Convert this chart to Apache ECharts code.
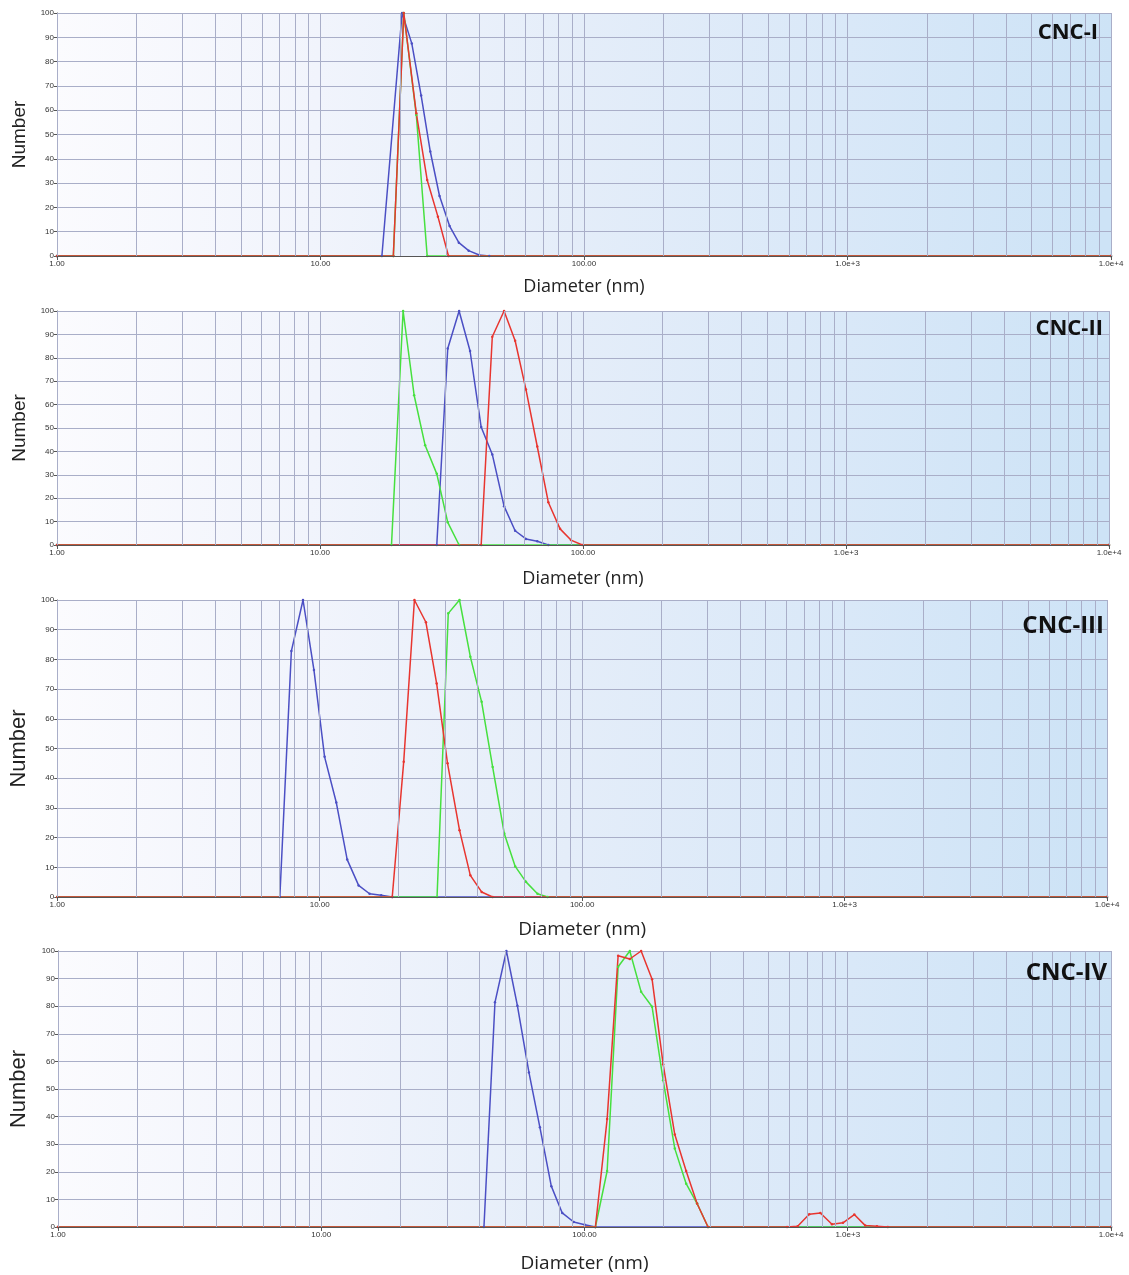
<!DOCTYPE html>
<html>
<head>
<meta charset="utf-8">
<script src="https://cdn.jsdelivr.net/npm/echarts@6/dist/echarts.min.js"></script>
<style>
html,body{margin:0;padding:0;background:#fff;}
#c{width:1129px;height:1275px;}
</style>
</head>
<body>
<div id="c"></div>
<script>
// ---- data: [diameter (nm), number %] ----
const panelNames = ['CNC-I', 'CNC-II', 'CNC-III', 'CNC-IV'];

const p1Blue  = [[1,0],[17.1,0],[20.4,100],[22.2,87.5],[24.1,66],[26.1,43],[28.3,24.7],[30.9,12.3],[33.5,5.5],[36.5,2.2],[40,0.4],[43.7,0],[10000,0]];
const p1Green = [[1,0],[18.9,0],[20.7,100],[23.1,58],[25.4,0],[10000,0]];
const p1Red   = [[1,0],[18.9,0],[20.7,100],[23.1,58.7],[25.4,31.3],[27.9,16.2],[30.6,0],[10000,0]];

const p2Blue  = [[1,0],[27.8,0],[30.6,84],[33.8,100],[37.2,82.9],[41,50.4],[45.2,38.7],[50.1,16.6],[55.2,6.1],[60.7,2.6],[67,1.6],[73.8,0],[10000,0]];
const p2Green = [[1,0],[18.7,0],[20.7,100],[22.8,64],[25.1,42.6],[27.8,30.4],[30.6,9.7],[33.8,0],[10000,0]];
const p2Red   = [[1,0],[41,0],[45.2,89],[50.1,100],[55.2,87.3],[60.7,66.4],[67,42.1],[73.8,18.3],[81.8,6.9],[90,2.1],[99.4,0],[10000,0]];

const p3Blue  = [[1,0],[7.05,0],[7.8,82.8],[8.64,100],[9.51,76.4],[10.44,47.2],[11.57,31.8],[12.73,12.6],[14.07,3.9],[15.49,1.1],[17.15,0.6],[18.9,0],[10000,0]];
const p3Green = [[1,0],[28,0],[30.9,95.5],[34.1,100],[37.5,80.9],[41.4,65.7],[45.6,43.8],[50.5,21.4],[55.6,10.3],[61.1,5.1],[67.6,1.1],[73.8,0],[10000,0]];
const p3Red   = [[1,0],[18.9,0],[20.9,45.5],[22.96,100],[25.4,92.5],[27.9,71.9],[30.7,45],[34.1,22.5],[37.5,7.3],[41.4,1.7],[45.6,0],[10000,0]];

const p4Blue  = [[1,0],[41.5,0],[45.7,81.4],[50.5,100],[55.6,80.2],[61.5,56],[67.7,36.1],[74.8,14.8],[82.3,5.1],[91,1.8],[100.2,0.8],[110,0],[10000,0]];
const p4Green = [[1,0],[110,0],[121.9,20.3],[134.2,94.3],[148.6,100],[164.1,85.2],[180.6,79.8],[198.9,53.2],[220.3,28.4],[243.3,15.7],[267.7,8.5],[294.6,0],[10000,0]];
const p4Red   = [[1,0],[110,0],[121.9,39.1],[134.2,98.3],[148.6,97.1],[164.1,100],[180.6,89.8],[198.9,59],[220.3,33.5],[243.3,20.3],[267.7,8.5],[294.6,0],[588,0],[645,0.3],[714,4.6],[787,5.1],[871,1],[959,1.5],[1059,4.5],[1166,0.5],[1291,0.3],[1420,0],[10000,0]];

// tick labels and minor grid positions
const xTickLabels = {1:'1.00', 10:'10.00', 100:'100.00', 1000:'1.0e+3', 10000:'1.0e+4'};
const minorGridDiameters = [2,3,4,5,6,7,8,9,20,30,40,50,60,70,80,90,200,300,400,500,600,700,800,900,2000,3000,4000,5000,6000,7000,8000,9000];

const panels = [
  {blue:p1Blue, green:p1Green, red:p1Red},
  {blue:p2Blue, green:p2Green, red:p2Red},
  {blue:p3Blue, green:p3Green, red:p3Red},
  {blue:p4Blue, green:p4Green, red:p4Red}
];

// ---- layout ----
const layout = [
  {left:57, right:18, top:13,  height:243, nameSize:19, nameGap:26, xNameGap:22, xNameSize:18, tag:{x:1098,y:22,size:22}},
  {left:57, right:20, top:311, height:234, nameSize:19, nameGap:26, xNameGap:25, xNameSize:18, tag:{x:1103,y:318,size:22}},
  {left:53, right:22, top:600, height:297, nameSize:22, nameGap:24, xNameGap:23, xNameSize:19, tag:{x:1104,y:614,size:24}},
  {left:57, right:18, top:951, height:276, nameSize:22, nameGap:28, xNameGap:27, xNameSize:19, tag:{x:1107,y:961,size:24}}
];

const COLORS = {blue:'#4b4fc4', green:'#46e03e', red:'#e8352f'};
const gridLineColor = '#a9aec8';
const bgGrad = {
  type:'linear', x:0, y:0, x2:1, y2:0.25,
  colorStops:[
    {offset:0, color:'#fbfbfe'},
    {offset:0.25, color:'#f1f4fc'},
    {offset:0.5, color:'#e4edf9'},
    {offset:0.75, color:'#d9e8f8'},
    {offset:1, color:'#cde3f6'}
  ]
};

const grid = [], xAxis = [], yAxis = [], series = [], graphic = [];
layout.forEach((L, i) => {
  grid.push({left:L.left, right:L.right, top:L.top, height:L.height, show:true,
    backgroundColor:bgGrad, borderWidth:0});
  xAxis.push({
    gridIndex:i, type:'log', logBase:10, min:1, max:10000, z:5,
    name:'Diameter (nm)', nameLocation:'middle', nameGap:L.xNameGap,
    nameTextStyle:{fontFamily:'Open Sans', fontSize:L.xNameSize, color:'#222'},
    axisLine:{show:true, lineStyle:{color:'#555', width:1}},
    axisTick:{show:true, length:4, lineStyle:{color:'#555'}},
    axisLabel:{fontFamily:'Liberation Sans', fontSize:8, color:'#333', margin:4,
      formatter: v => xTickLabels[Math.round(v)] || ''},
    splitLine:{show:true, lineStyle:{color:gridLineColor, width:1}}
  });
  yAxis.push({
    gridIndex:i, type:'value', min:0, max:100, interval:10,
    name:'Number', nameLocation:'middle', nameGap:L.nameGap,
    nameTextStyle:{fontFamily:'Liberation Sans', fontSize:L.nameSize, color:'#222'},
    axisLine:{show:true, lineStyle:{color:'#555', width:1}},
    axisTick:{show:true, length:3, lineStyle:{color:'#555'}},
    axisLabel:{fontFamily:'Liberation Sans', fontSize:8, color:'#333', margin:3},
    splitLine:{show:true, lineStyle:{color:gridLineColor, width:1}}
  });
  // minor vertical grid lines, placed through the log axis
  series.push({
    type:'line', xAxisIndex:i, yAxisIndex:i, data:[[1,0]], symbol:'none',
    lineStyle:{opacity:0}, silent:true, z:1,
    markLine:{silent:true, symbol:'none', label:{show:false},
      lineStyle:{color:gridLineColor, width:1, type:'solid'},
      data:minorGridDiameters.map(d => ({xAxis:d}))}
  });
  ['blue','green','red'].forEach(k => {
    series.push({
      type:'line', xAxisIndex:i, yAxisIndex:i, data:panels[i][k],
      symbol:'circle', symbolSize:2.5, showSymbol:true,
      itemStyle:{color:COLORS[k]},
      lineStyle:{color:COLORS[k], width:1.5},
      z:3, animation:false
    });
  });
  graphic.push({type:'text', x:L.tag.x, y:L.tag.y, z:10,
    style:{text:panelNames[i], textAlign:'right', textVerticalAlign:'top',
      fontFamily:'Open Sans', fontWeight:'bold', fontSize:L.tag.size, fill:'#111'}});
});

const chart = echarts.init(document.getElementById('c'), null, {renderer:'canvas'});
chart.setOption({animation:false, backgroundColor:'#ffffff', grid, xAxis, yAxis, series, graphic});
</script>
</body>
</html>
